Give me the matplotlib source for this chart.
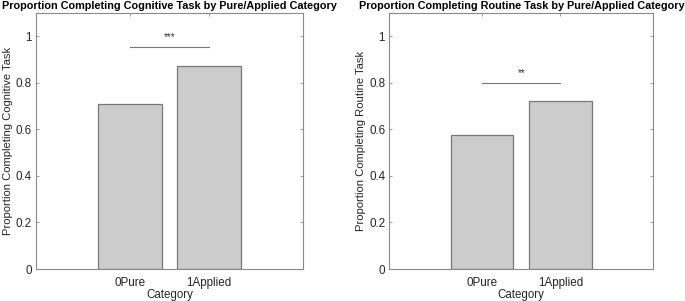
import matplotlib
matplotlib.use("Agg")
import matplotlib.pyplot as plt

plt.rcParams['font.family'] = ['Liberation Sans', 'DejaVu Sans']

categories = ["0Pure", "1Applied"]
cognitive = [0.707, 0.871]
routine = [0.576, 0.722]
sig_cognitive = "***"
sig_routine = "**"
sig_cog_y = 0.954
sig_rout_y = 0.801

titles = ["Proportion Completing Cognitive Task by Pure/Applied Category",
          "Proportion Completing Routine Task by Pure/Applied Category"]
ylabels = ["Proportion Completing Cognitive Task",
           "Proportion Completing Routine Task"]

fig = plt.figure(figsize=(6.85, 3.01), dpi=100)
axes_pos = [[36/685, 32/301, 267/685, 256/301],
            [389.3/685, 32/301, 264/685, 256/301]]

axcol = '#8a8a8a'
for pos, vals, title, ylab, stars, sy in zip(axes_pos, [cognitive, routine], titles, ylabels,
                                              [sig_cognitive, sig_routine], [sig_cog_y, sig_rout_y]):
    ax = fig.add_axes(pos)
    x = [1, 2]
    ax.bar(x, vals, width=0.8, color='#cccccc', edgecolor='#777777', linewidth=0.9, zorder=2)
    ax.set_xlim(-0.19, 3.19)
    ax.set_ylim(0, 1.1)
    ax.set_xticks(x)
    ax.set_xticklabels(categories)
    ax.set_yticks([0, 0.2, 0.4, 0.6, 0.8, 1])
    ax.set_yticklabels(["0", "0.2", "0.4", "0.6", "0.8", "1"])
    ax.tick_params(direction='in', length=2.5, width=0.6, colors=axcol, labelcolor='#262626',
                   labelsize=8.4, top=True, right=True)
    ax.tick_params(axis='x', pad=5.5)
    ax.tick_params(axis='y', pad=3)
    for s in ax.spines.values():
        s.set_color(axcol)
        s.set_linewidth(0.8)
    ax.set_xlabel("Category", fontsize=8.3, color='#262626', labelpad=0)
    ax.set_ylabel(ylab, fontsize=8.1, color='#262626', labelpad=2)
    ax.set_title(title, fontsize=7.8, fontweight='bold', pad=3)
    ax.plot([1, 2], [sy, sy], color='#777777', linewidth=0.8, zorder=3)
    ax.text(1.5, sy + 0.02, stars, ha='center', va='bottom', fontsize=7, color='#333333')

fig.savefig("out.png", dpi=100)
